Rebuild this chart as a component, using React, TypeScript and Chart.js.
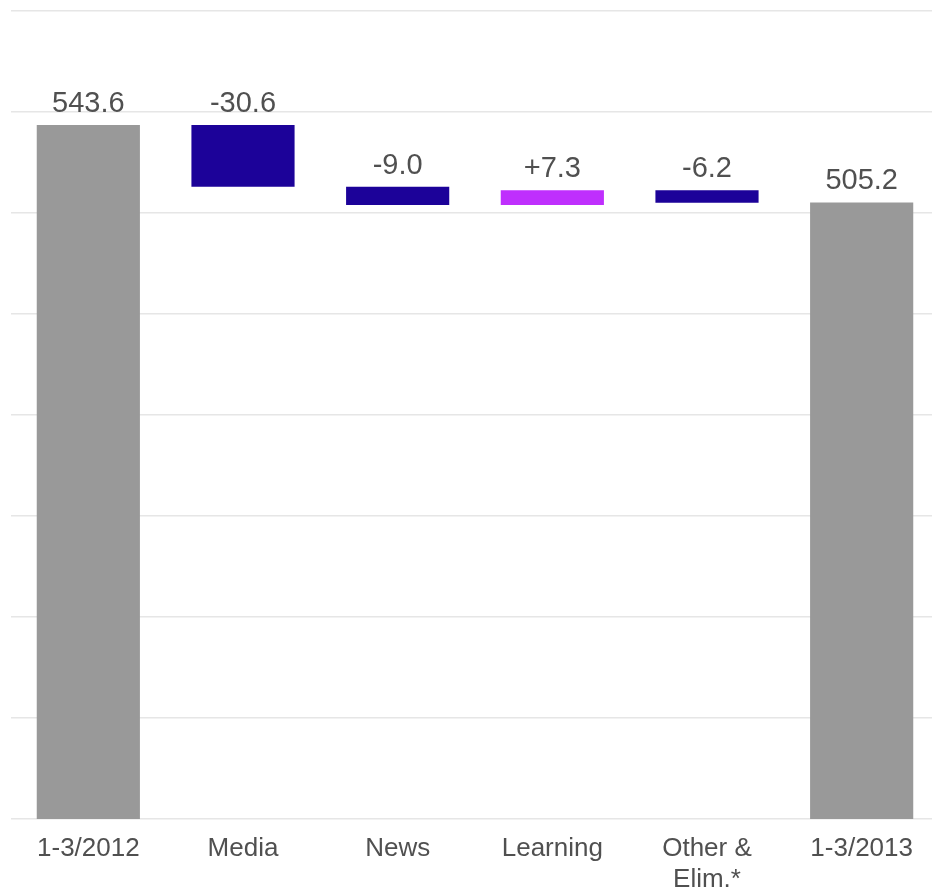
import React, { useEffect, useRef } from "react";
import { Chart, registerables } from "chart.js";

Chart.register(...registerables);

const categories: (string | string[])[] = ["1-3/2012", "Media", "News", "Learning", ["Other &", "Elim.*"], "1-3/2013"];
const totals: (number | null)[] = [543.6, null, null, null, null, 505.2];
const deltas: (number | null)[] = [null, -30.6, -9.0, 7.3, -6.2, null];
const valueLabels = ["543.6", "-30.6", "-9.0", "+7.3", "-6.2", "505.2"];
const yTicks = [200, 250, 300, 350, 400, 450, 500, 550, 600];

const GRAY = "#999999";
const NEG = "#1c0299";
const POS = "#bf2ffd";
const FONT = "'Liberation Sans', Arial, sans-serif";

function buildRanges() {
  const ranges: [number, number][] = [];
  const colors: string[] = [];
  let running = 0;
  for (let i = 0; i < categories.length; i++) {
    const t = totals[i];
    const d = deltas[i];
    if (t !== null) {
      ranges.push([0, t]);
      colors.push(GRAY);
      running = t;
    } else if (d !== null) {
      const next = running + d;
      ranges.push([Math.min(running, next), Math.max(running, next)]);
      colors.push(d < 0 ? NEG : POS);
      running = next;
    }
  }
  return { ranges, colors };
}

const valueLabelPlugin = {
  id: "valueLabels",
  afterDatasetsDraw(chart: any) {
    const ctx = chart.ctx;
    const meta = chart.getDatasetMeta(0);
    ctx.save();
    ctx.font = `29px ${FONT}`;
    ctx.fillStyle = "#505050";
    ctx.textAlign = "center";
    ctx.textBaseline = "alphabetic";
    meta.data.forEach((bar: any, i: number) => {
      const top = Math.min(bar.y, bar.base);
      ctx.fillText(valueLabels[i], bar.x, top - 13);
    });
    ctx.restore();
  },
};

export default function App() {
  const ref = useRef<HTMLCanvasElement | null>(null);
  useEffect(() => {
    if (!ref.current) return;
    const { ranges, colors } = buildRanges();
    const chart = new Chart(ref.current, {
      type: "bar",
      data: {
        labels: categories,
        datasets: [
          {
            data: ranges as any,
            backgroundColor: colors,
            borderWidth: 0,
            barPercentage: 0.667,
            categoryPercentage: 1,
          },
        ],
      },
      options: {
        animation: false,
        responsive: true,
        maintainAspectRatio: false,
        layout: { padding: { left: 11, right: 11, top: 11, bottom: 0 } },
        plugins: { legend: { display: false }, tooltip: { enabled: false } },
        scales: {
          x: {
            grid: { display: false, drawTicks: false },
            border: { display: false },
            afterFit: (scale: any) => {
              scale.height = 68;
            },
            ticks: {
              color: "#505050",
              font: { size: 26, family: FONT, lineHeight: 1.2 },
              padding: 14,
              maxRotation: 0,
              autoSkip: false,
            },
          },
          y: {
            min: yTicks[0],
            max: yTicks[yTicks.length - 1],
            afterBuildTicks: (scale: any) => {
              scale.ticks = yTicks.map((v) => ({ value: v }));
            },
            ticks: { display: false },
            grid: { color: "#e6e6e6", lineWidth: 1.5, drawTicks: false },
            border: { display: false },
          },
        },
      },
      plugins: [valueLabelPlugin],
    });
    return () => chart.destroy();
  }, []);
  return (
    <div style={{ position: "absolute", left: 0, top: 0, width: 932, height: 887, overflow: "hidden" }}>
      <div style={{ position: "relative", width: 950, height: 887 }}>
        <canvas ref={ref} />
      </div>
    </div>
  );
}
